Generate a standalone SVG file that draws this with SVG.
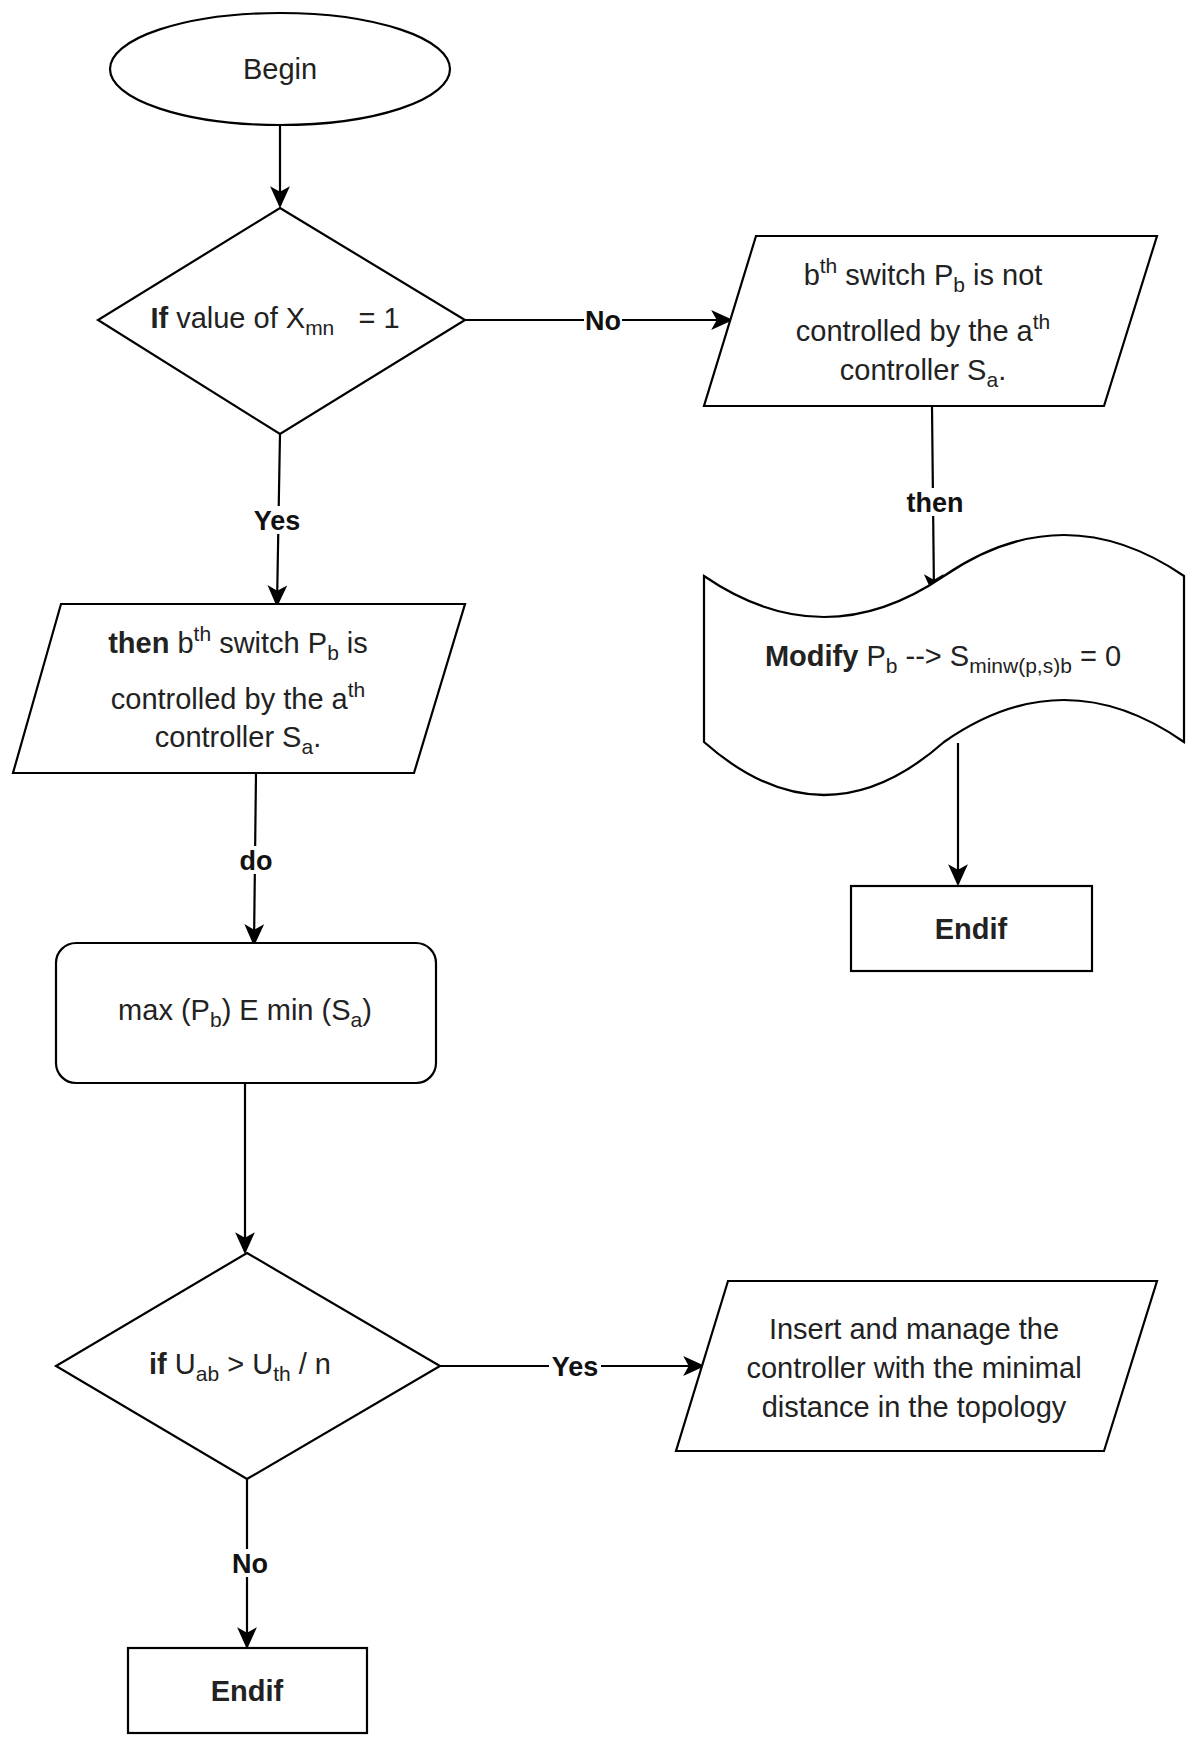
<svg xmlns="http://www.w3.org/2000/svg" width="1201" height="1748" viewBox="0 0 1201 1748">
<defs>
<marker id="ah" viewBox="0 0 20 20" refX="18" refY="10" markerWidth="22" markerHeight="22" markerUnits="userSpaceOnUse" orient="auto"><path d="M0,1 L20,10 L0,19 L5,10 Z" fill="#000"/></marker>
</defs>
<style>
.s{fill:#fff;stroke:#000;stroke-width:2.2}
.t{font-family:"Liberation Sans",Arial,sans-serif;font-size:29px;fill:#222;text-anchor:middle}
.b{font-weight:bold}
.sub{font-size:21px}
.e{stroke:#000;stroke-width:2.2;fill:none;marker-end:url(#ah)}
.lb{font-family:"Liberation Sans",Arial,sans-serif;font-size:27px;font-weight:bold;fill:#111;text-anchor:middle}
.bg{fill:#fff}
</style>
<rect width="1201" height="1748" fill="#fff"/>
<g id="connectors">
<line class="e" x1="280" y1="125" x2="280" y2="206"/>
<line class="e" x1="465" y1="320" x2="731" y2="320"/>
<line class="e" x1="280" y1="434" x2="277" y2="605"/>
<line class="e" x1="932" y1="406" x2="934" y2="594"/>
<line class="e" x1="958" y1="743" x2="958" y2="884"/>
<line class="e" x1="256" y1="773" x2="254" y2="944"/>
<line class="e" x1="245" y1="1083" x2="245" y2="1252"/>
<line class="e" x1="440" y1="1366" x2="703" y2="1366"/>
<line class="e" x1="247" y1="1479" x2="247" y2="1647"/>
<rect class="bg" x="584" y="306" width="38" height="28"/>
<text class="lb" x="603" y="330">No</text>
<rect class="bg" x="250" y="506" width="56" height="28"/>
<text class="lb" x="277" y="530">Yes</text>
<rect class="bg" x="902" y="488" width="66" height="28"/>
<text class="lb" x="935" y="512">then</text>
<rect class="bg" x="234" y="846" width="44" height="28"/>
<text class="lb" x="256" y="870">do</text>
<rect class="bg" x="549" y="1352" width="52" height="28"/>
<text class="lb" x="575" y="1376">Yes</text>
<rect class="bg" x="230" y="1549" width="40" height="28"/>
<text class="lb" x="250" y="1573">No</text>
</g>
<g id="begin">
<ellipse class="s" cx="280" cy="69" rx="170" ry="56"/>
<text class="t" x="280" y="79">Begin</text>
</g>
<g id="decision1">
<polygon class="s" points="280,208 465,320 280,434 98,320"/>
<text class="t" x="275" y="328" xml:space="preserve"><tspan class="b">If</tspan> value of X<tspan class="sub" dy="7">mn</tspan><tspan dy="-7">   = 1</tspan></text>
</g>
<g id="notControlled">
<polygon class="s" points="756,236 1157,236 1104,406 704,406"/>
<text class="t" x="923" y="285">b<tspan class="sub" dy="-12">th</tspan><tspan dy="12"> switch P</tspan><tspan class="sub" dy="7">b</tspan><tspan dy="-7"> is not</tspan></text>
<text class="t" x="923" y="341">controlled by the a<tspan class="sub" dy="-12">th</tspan></text>
<text class="t" x="923" y="380">controller S<tspan class="sub" dy="7">a</tspan><tspan dy="-7">.</tspan></text>
</g>
<g id="modify">
<path class="s" d="M704,576 Q824,658 944,576 Q1064,494 1184,576 L1184,742 Q1064,658 944,742 Q824,848 704,742 Z"/>
<text class="t" x="943" y="666"><tspan class="b">Modify</tspan> P<tspan class="sub" dy="7">b</tspan><tspan dy="-7"> --&gt; S</tspan><tspan class="sub" dy="7">minw(p,s)b</tspan><tspan dy="-7"> = 0</tspan></text>
</g>
<g id="endif1">
<rect class="s" x="851" y="886" width="241" height="85"/>
<text class="t b" x="971" y="939">Endif</text>
</g>
<g id="controlled">
<polygon class="s" points="61,604 465,604 414,773 13,773"/>
<text class="t" x="238" y="653"><tspan class="b">then</tspan> b<tspan class="sub" dy="-12">th</tspan><tspan dy="12"> switch P</tspan><tspan class="sub" dy="7">b</tspan><tspan dy="-7"> is</tspan></text>
<text class="t" x="238" y="709">controlled by the a<tspan class="sub" dy="-12">th</tspan></text>
<text class="t" x="238" y="747">controller S<tspan class="sub" dy="7">a</tspan><tspan dy="-7">.</tspan></text>
</g>
<g id="maxmin">
<rect class="s" x="56" y="943" width="380" height="140" rx="20"/>
<text class="t" x="245" y="1020">max (P<tspan class="sub" dy="7">b</tspan><tspan dy="-7">) E min (S</tspan><tspan class="sub" dy="7">a</tspan><tspan dy="-7">)</tspan></text>
</g>
<g id="decision2">
<polygon class="s" points="247,1253 440,1366 247,1479 56,1366"/>
<text class="t" x="240" y="1374"><tspan class="b">if</tspan> U<tspan class="sub" dy="7">ab</tspan><tspan dy="-7"> &gt; U</tspan><tspan class="sub" dy="7">th</tspan><tspan dy="-7"> / n</tspan></text>
</g>
<g id="insert">
<polygon class="s" points="728,1281 1157,1281 1104,1451 676,1451"/>
<text class="t" x="914" y="1339">Insert and manage the</text>
<text class="t" x="914" y="1378">controller with the minimal</text>
<text class="t" x="914" y="1417">distance in the topology</text>
</g>
<g id="endif2">
<rect class="s" x="128" y="1648" width="239" height="85"/>
<text class="t b" x="247" y="1701">Endif</text>
</g>
</svg>
